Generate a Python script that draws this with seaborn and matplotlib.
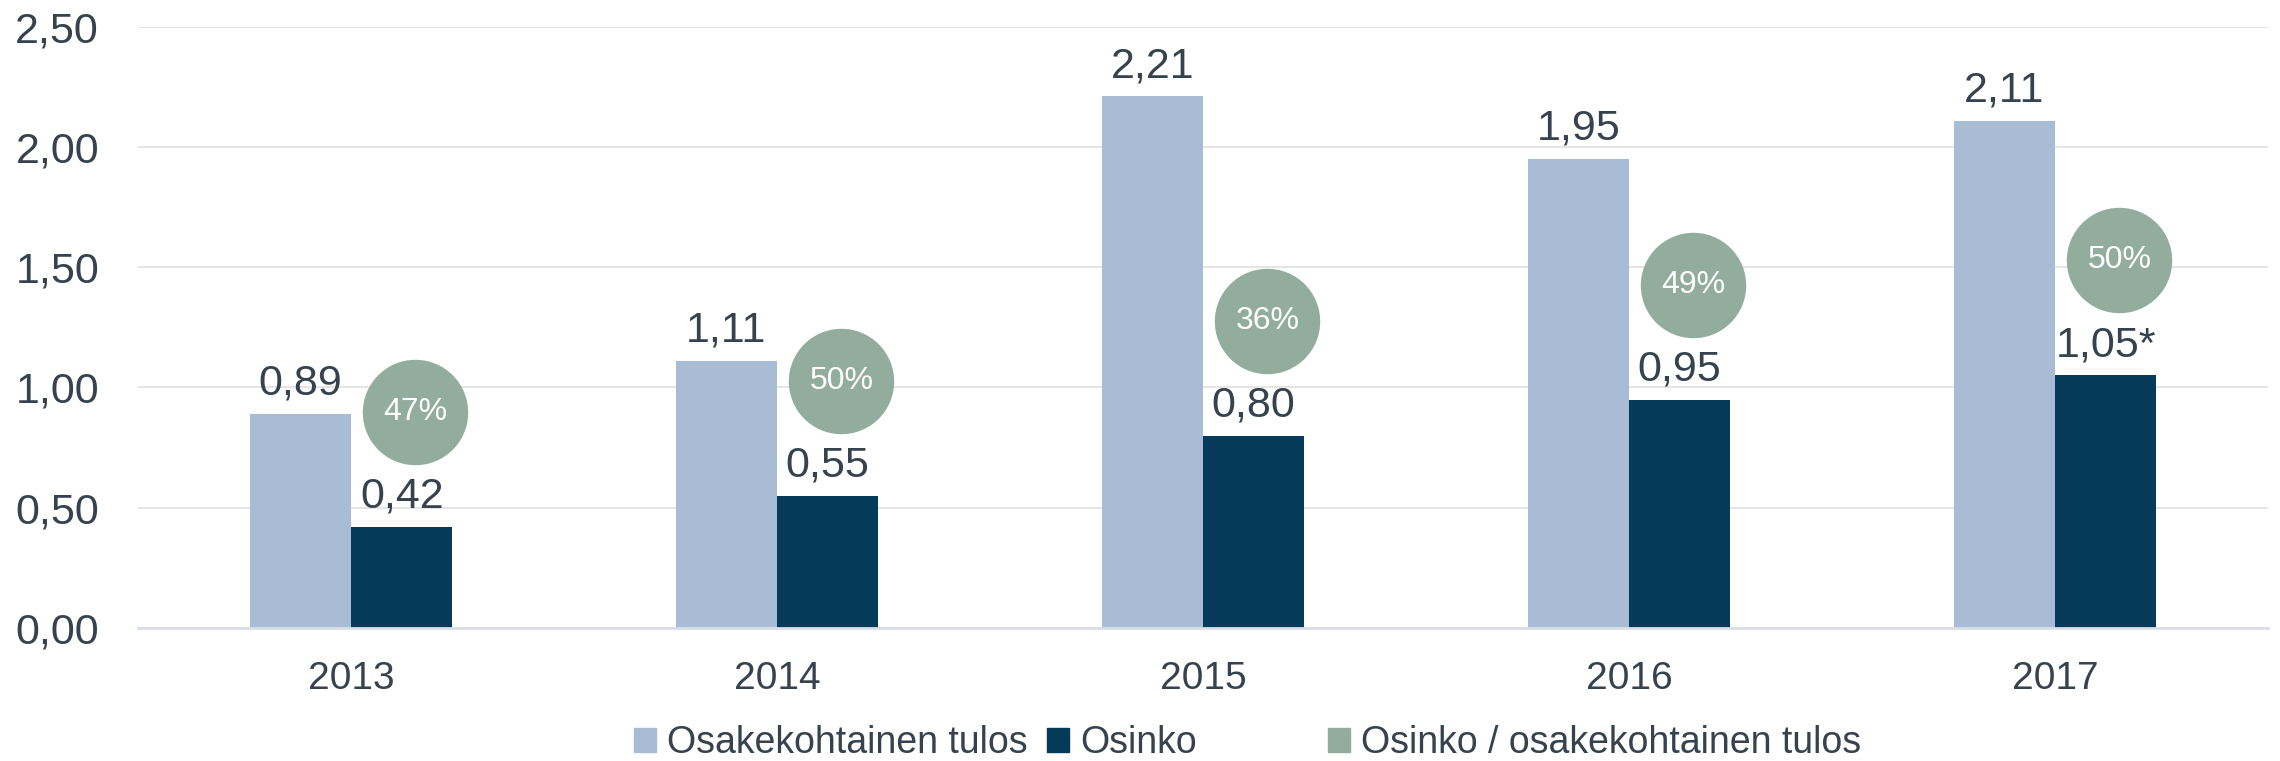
import matplotlib
matplotlib.use("Agg")
import matplotlib.pyplot as plt
from matplotlib.patches import Patch
import seaborn as sns
import pandas as pd

years = ["2013", "2014", "2015", "2016", "2017"]
eps = [0.89, 1.11, 2.21, 1.95, 2.11]
dividend = [0.42, 0.55, 0.80, 0.95, 1.05]
payout_ratio = [47, 50, 36, 49, 50]
eps_labels = ["0,89", "1,11", "2,21", "1,95", "2,11"]
dividend_labels = ["0,42", "0,55", "0,80", "0,95", "1,05*"]
series_names = ["Osakekohtainen tulos", "Osinko", "Osinko / osakekohtainen tulos"]
y_ticks = [0.0, 0.5, 1.0, 1.5, 2.0, 2.5]

C_EPS = "#a8bcd6"
C_DIV = "#053a5a"
C_RATIO = "#92ad9d"
C_TEXT = "#36434e"

sns.set_theme(style="white")
plt.rcParams["font.family"] = ["Liberation Sans", "DejaVu Sans"]

df = pd.DataFrame({
    "year": years * 2,
    "value": eps + dividend,
    "series": [series_names[0]] * len(years) + [series_names[1]] * len(years),
})

fig = plt.figure(figsize=(22.8, 7.61), dpi=100)
ax = fig.add_axes([138 / 2280, 1 - 628 / 761, (2268 - 138) / 2280, (628 - 26.7) / 761])

sns.barplot(data=df, x="year", y="value", hue="series", order=years,
            hue_order=series_names[:2], palette=[C_EPS, C_DIV],
            width=0.476, gap=0, saturation=1, errorbar=None, legend=False,
            linewidth=0, ax=ax, zorder=2)

ax.set_ylim(0, 2.5)
ax.set_xlim(-0.5, len(years) - 0.5)
ax.set_yticks(y_ticks)
ax.set_yticklabels([f"{v:.2f}".replace(".", ",") for v in y_ticks])
ax.set_xlabel("")
ax.set_ylabel("")
ax.grid(axis="y", color="#e3e3e3", linewidth=1.3, zorder=0)
ax.set_axisbelow(True)
for s in ["top", "right", "left"]:
    ax.spines[s].set_visible(False)
ax.spines["bottom"].set_color("#d9dee6")
ax.spines["bottom"].set_linewidth(2)
ax.tick_params(axis="y", length=0, pad=28, labelsize=31, labelcolor=C_TEXT)
ax.tick_params(axis="x", length=0, pad=24, labelsize=28, labelcolor=C_TEXT)

# data labels from the bar containers
for cont, labels in zip(ax.containers, [eps_labels, dividend_labels]):
    for bar, lab in zip(cont, labels):
        x = bar.get_x() + bar.get_width() / 2
        h = bar.get_height()
        ax.annotate(lab, (x, h), xytext=(0, 14), textcoords="offset points",
                    ha="center", va="baseline", fontsize=31, color=C_TEXT)

# payout ratio bubbles placed above the dividend bars
div_bars = ax.containers[1]
bx = [b.get_x() + b.get_width() / 2 + 0.032 for b in div_bars]
by = [b.get_height() + 0.478 for b in div_bars]
ax.scatter(bx, by, s=5760, color=C_RATIO, zorder=4, linewidths=0)
for x, y, r in zip(bx, by, payout_ratio):
    ax.text(x, y, f"{r}%", ha="center", va="center", fontsize=23,
            color="white", zorder=5)

# legend
kw = dict(frameon=False, fontsize=27, handlelength=0.59, handleheight=0.59,
          handletextpad=0.3, columnspacing=0.5, borderpad=0, borderaxespad=0,
          labelcolor=C_TEXT)
leg1 = fig.legend(handles=[Patch(color=C_EPS), Patch(color=C_DIV)],
                  labels=series_names[:2], ncol=2, loc="center left",
                  bbox_to_anchor=(634 / 2280, 1 - 743 / 761), **kw)
leg2 = fig.legend(handles=[Patch(color=C_RATIO)], labels=series_names[2:],
                  ncol=1, loc="center left",
                  bbox_to_anchor=(1328 / 2280, 1 - 743 / 761), **kw)

fig.savefig("out.png", dpi=100)
